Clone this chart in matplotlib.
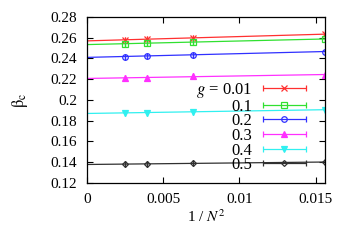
import numpy as np
import matplotlib
matplotlib.use("Agg")
import matplotlib.pyplot as plt
from matplotlib.legend_handler import HandlerErrorbar
from matplotlib.container import ErrorbarContainer

plt.rcParams['font.family'] = ['Liberation Serif', 'DejaVu Serif']
plt.rcParams['mathtext.fontset'] = 'stix'

inv_N2 = [1/400, 1/256, 1/144, 1/64]
g_labels = ['$g$ = 0.01', '0.1', '0.2', '0.3', '0.4', '0.5']
beta_001 = [0.2578, 0.2585, 0.2601, 0.2633]
beta_01 = [0.2543, 0.2547, 0.2556, 0.2588]
beta_02 = [0.2418, 0.2424, 0.2437, 0.2466]
beta_03 = [0.2212, 0.2215, 0.2228, 0.2244]
beta_04 = [0.1878, 0.1878, 0.1884, 0.1907]
beta_05 = [0.1383, 0.1383, 0.1390, 0.1402]
series = [beta_001, beta_01, beta_02, beta_03, beta_04, beta_05]

colors = ['#ff3030', '#30e030', '#3030ff', '#ff30ff', '#30f0f0', '#303030']
markers = ['x', 's', 'o', '^', 'v', 'D']
mfc = ['none', 'none', 'none', None, None, 'none']
msizes = [4, 4, 4, 4, 4, 3]

fig = plt.figure(figsize=(3.5, 2.45), dpi=100)
ax = fig.add_axes([0.249, 0.253, 0.68, 0.678])

xs = np.array(inv_N2)
xline = np.array([0, 1/64])
handles = []
for ys, c, m, fc, ms in zip(series, colors, markers, mfc, msizes):
    p = np.polyfit(xs, ys, 1)
    ax.plot(xline, np.polyval(p, xline), color=c, lw=0.9)
    kw = dict(markerfacecolor=fc if fc else c)
    h = ax.errorbar(xs, ys, xerr=np.zeros_like(xs), fmt=m, color=c, ms=ms,
                    mew=0.9, elinewidth=0.9, capsize=2.5, lw=0.9, **kw)
    handles.append(h)

ax.set_xlim(0, 1/64)
ax.set_ylim(0.12, 0.28)
ax.set_xticks([0, 0.005, 0.01, 0.015])
ax.set_xticklabels(['0', '0.005', '0.01', '0.015'])
ax.set_yticks(np.arange(0.12, 0.2801, 0.02))
ax.set_yticklabels(['0.12', '0.14', '0.16', '0.18', '0.2', '0.22', '0.24', '0.26', '0.28'])
ax.tick_params(direction='in', top=True, right=True, labelsize=11, length=4, width=0.8, pad=7)
for s in ax.spines.values():
    s.set_linewidth(0.9)

ax.set_xlabel('1 / $N^2$', fontsize=11, labelpad=2)
ax.set_ylabel(r'$\mathrm{\beta_c}$', fontsize=12, labelpad=15)

leg = ax.legend(handles, g_labels, loc='upper right', bbox_to_anchor=(0.955, 0.665),
                frameon=False, markerfirst=False, fontsize=12, handlelength=2.6,
                handletextpad=0.65, labelspacing=-0.08, borderpad=0,
                handler_map={ErrorbarContainer: HandlerErrorbar(xerr_size=1.3)})

fig.savefig('out.png', dpi=100)
